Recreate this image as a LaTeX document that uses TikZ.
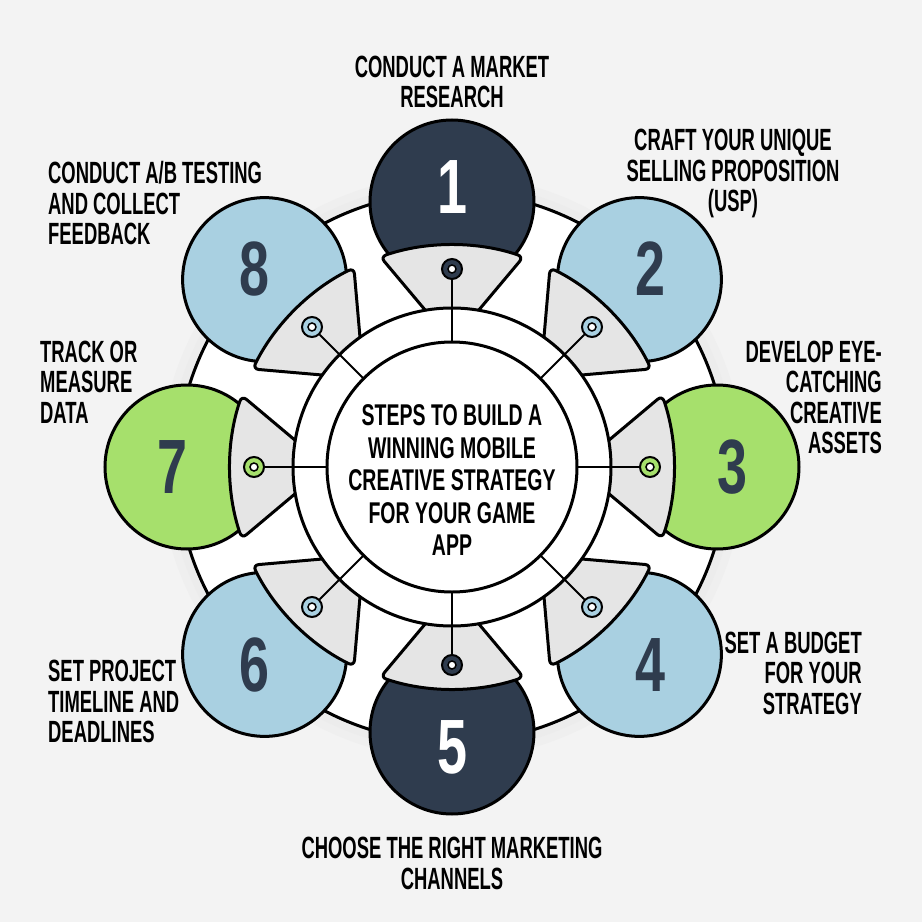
\documentclass[tikz,border=0pt]{standalone}
\usepackage{fontspec}
\newfontfamily\labfont[FakeStretch=0.6]{Liberation Sans}
\newfontfamily\ttlfont[FakeStretch=0.65]{Liberation Sans}
\newfontfamily\numfont[FakeStretch=0.7]{Liberation Sans}
\definecolor{bg}{HTML}{F3F3F3}
\definecolor{halo}{HTML}{ECECEC}
\definecolor{halob}{HTML}{EFEFEF}
\definecolor{navy}{HTML}{2F3C4E}
\definecolor{lblue}{HTML}{A9D0E1}
\definecolor{lgreen}{HTML}{A6E06C}
\definecolor{wedgegrey}{HTML}{E5E5E5}
\tikzset{
  outline/.style={draw=black, line width=3pt},
  numcircle/.style={circle, outline, minimum size=164pt, inner sep=0pt},
  wedgeshape/.style={fill=wedgegrey, outline, rounded corners=6pt},
  conn/.style={draw=black, line width=2pt},
  dotouter/.style={circle, draw=black, line width=2pt, minimum size=20pt, inner sep=0pt},
  dotinner/.style={circle, draw=black, fill=white, line width=1.5pt, minimum size=8pt, inner sep=0pt},
  numtext/.style={font=\numfont\bfseries\fontsize{77}{77}\selectfont, inner sep=0pt},
  labtext/.style={font=\labfont\bfseries\fontsize{30.7}{30.5}\selectfont, inner sep=0pt},
}
\begin{document}
\begin{tikzpicture}[x=1pt,y=1pt]
\fill[bg] (-452,-455) rectangle (470,467);
\useasboundingbox (-452,-455) rectangle (470,467);
% soft halo and main disc
\fill[halob] (0,0) circle[radius=292];
\fill[halo] (0,0) circle[radius=284];
\node[circle, outline, fill=white, minimum size=550pt, inner sep=0pt] (disc) at (0,0) {};
% number circles
\foreach \i/\c in {1/navy,2/lblue,3/lgreen,4/lblue,5/navy,6/lblue,7/lgreen,8/lblue}{
  \pgfmathsetmacro\ang{90-45*(\i-1)}
  \node[numcircle, fill=\c] (c\i) at (\ang:265) {};
}
% wedges
\foreach \i in {1,...,8}{
  \pgfmathsetmacro\rot{-45*(\i-1)}
  \begin{scope}[rotate=\rot]
    \path[wedgeshape] (0,125) -- (71.5,210.2) arc[start angle=71.2, end angle=108.8, radius=222] -- cycle;
  \end{scope}
}
% ring and hub
\node[circle, outline, fill=white, minimum size=318pt, inner sep=0pt] (ring) at (0,0) {};
\node[circle, outline, fill=white, minimum size=250pt, inner sep=0pt] (hub) at (0,0) {};
% dots, connectors, numbers
\foreach \i/\c/\t in {1/navy/white,2/lblue/navy,3/lgreen/navy,4/lblue/navy,5/navy/white,6/lblue/navy,7/lgreen/navy,8/lblue/navy}{
  \pgfmathsetmacro\ang{90-45*(\i-1)}
  \coordinate (h\i) at (\ang:125);
  \node[dotouter, fill=\c] (d\i) at (\ang:198) {};
  \node[dotinner] (e\i) at (d\i) {};
  \draw[conn] (d\i) -- (h\i);
  \node[numtext, text=\t] (n\i) at (\ang:280) {\i};
}
% title
\node[font=\ttlfont\bfseries\fontsize{30}{32.5}\selectfont, align=center, inner sep=0pt] (title) at (0,-13.5)
  {STEPS TO BUILD A\\WINNING MOBILE\\CREATIVE STRATEGY\\FOR YOUR GAME\\APP};
% labels
\node[labtext, align=center] (l1) at (0,385) {CONDUCT A MARKET\\RESEARCH};
\node[labtext, align=center] (l2) at (281,293.5) {CRAFT YOUR UNIQUE\\SELLING PROPOSITION\\(USP)};
\node[labtext, align=right, anchor=east] (l3) at (430,69.5) {DEVELOP EYE-\\CATCHING\\CREATIVE\\ASSETS};
\node[labtext, align=right, anchor=east] (l4) at (410,-206) {SET A BUDGET\\FOR YOUR\\STRATEGY};
\node[labtext, align=center] (l5) at (0,-396.5) {CHOOSE THE RIGHT MARKETING\\CHANNELS};
\node[labtext, align=left, anchor=west] (l6) at (-404,-234.5) {SET PROJECT\\TIMELINE AND\\DEADLINES};
\node[labtext, align=left, anchor=west] (l7) at (-412,85) {TRACK OR\\MEASURE\\DATA};
\node[labtext, align=left, anchor=west] (l8) at (-404,263.5) {CONDUCT A/B TESTING\\AND COLLECT\\FEEDBACK};
\end{tikzpicture}
\end{document}
